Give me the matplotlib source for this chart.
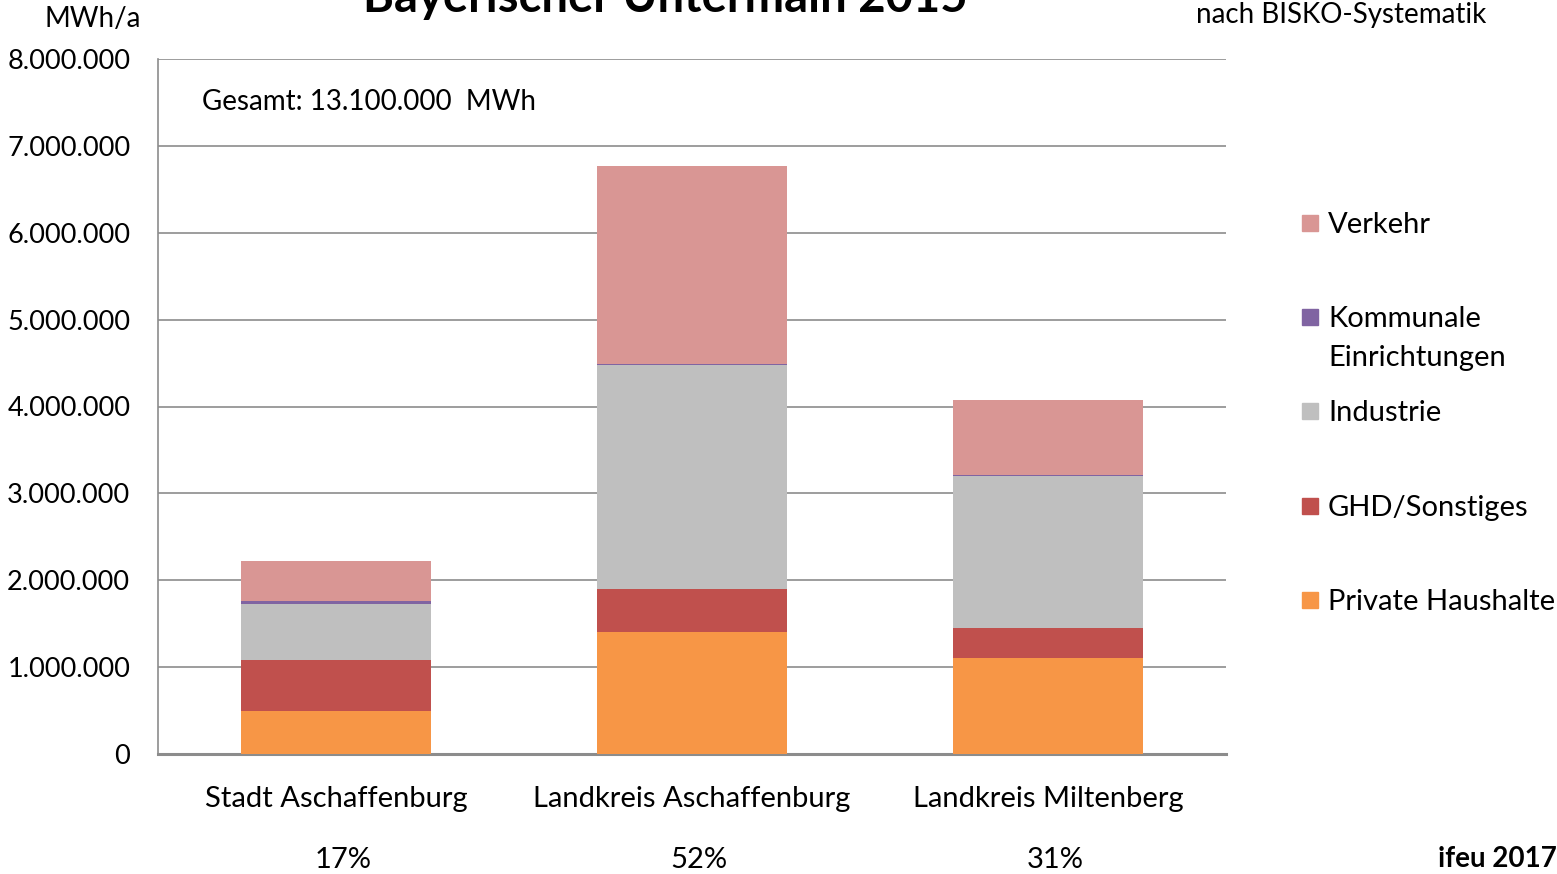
import matplotlib
matplotlib.use("Agg")
import matplotlib.pyplot as plt
import matplotlib.ticker as mticker
from matplotlib.patches import Rectangle
import numpy as np

plt.rcParams["font.family"] = ["Lato", "DejaVu Sans"]

# ── Data (MWh/a) ──────────────────────────────────────────────────────────────
REGIONS = ["Stadt Aschaffenburg", "Landkreis Aschaffenburg", "Landkreis Miltenberg"]
SHARES = ["17%", "52%", "31%"]
private_haushalte = [500_000, 1_404_000, 1_109_000]
ghd_sonstiges = [582_000, 495_000, 345_000]
industrie = [645_000, 2_573_000, 1_749_000]
kommunale = [30_000, 18_000, 10_000]
verkehr = [465_000, 2_278_000, 863_000]

SERIES = [
    ("Private Haushalte", private_haushalte, "#f79646"),
    ("GHD/Sonstiges", ghd_sonstiges, "#c0504d"),
    ("Industrie", industrie, "#bfbfbf"),
    ("Kommunale\nEinrichtungen", kommunale, "#8064a2"),
    ("Verkehr", verkehr, "#d99694"),
]

FS = 20

W, H = 1557, 874
fig = plt.figure(figsize=(W / 100, H / 100), dpi=100)
ax = fig.add_axes([158 / W, 1 - 754 / H, (1226 - 158) / W, (754 - 59) / H])

x = np.arange(len(REGIONS))
bottom = np.zeros(len(REGIONS))
for name, vals, col in SERIES:
    ax.bar(x, vals, width=0.535, bottom=bottom, color=col, edgecolor="none", zorder=3)
    bottom += np.array(vals)

ax.set_xlim(-0.5, 2.5)
ax.set_ylim(0, 8_000_000)
ax.yaxis.set_major_locator(mticker.MultipleLocator(1_000_000))
ax.yaxis.set_major_formatter(mticker.FuncFormatter(
    lambda v, _: f"{int(v):,}".replace(",", ".")))
ax.grid(axis="y", color="#8c8c8c", linewidth=1.2, zorder=0)
ax.set_xticks([])
ax.tick_params(axis="y", length=0, pad=20, labelsize=19.5)
ax.spines[["top", "right"]].set_visible(False)
ax.spines["left"].set_color("#8c8c8c")
ax.spines["left"].set_linewidth(1.2)
ax.spines["bottom"].set_color("#8c8c8c")
ax.spines["bottom"].set_linewidth(2.2)

# category labels and shares
for i, (reg, sh) in enumerate(zip(REGIONS, SHARES)):
    ax.annotate(reg, (i, 0), xytext=(0, -45), textcoords="offset pixels",
                ha="center", va="center", fontsize=21)
    ax.annotate(sh, (i, 0), xytext=(7, -106), textcoords="offset pixels",
                ha="center", va="center", fontsize=21)

fig.text(202 / W, 1 - 102 / H, "Gesamt: 13.100.000  MWh", fontsize=FS,
         ha="left", va="center")
fig.text(93 / W, 1 - 19 / H, "MWh/a", fontsize=FS, ha="center", va="center")
fig.text(1341 / W, 1 - 15 / H, "nach BISKO-Systematik", fontsize=FS,
         ha="center", va="center")
fig.text(665 / W, 1 - 12 / H, "Bayerischer Untermain 2015", fontsize=34,
         fontweight="bold", ha="center", va="baseline")
fig.text(1557 / W, 1 - 859 / H, "ifeu 2017", fontsize=FS, fontweight="bold",
         ha="right", va="center")

# legend, drawn by hand to keep Excel-like spacing
legend_y = {"Verkehr": 223, "Kommunale\nEinrichtungen": 317, "Industrie": 411,
            "GHD/Sonstiges": 506, "Private Haushalte": 600}
for name, _, col in SERIES:
    yp = legend_y[name]
    fig.patches.append(Rectangle((1302 / W, 1 - (yp + 8) / H), 16 / W, 16 / H,
                                 color=col, transform=fig.transFigure))
    for k, line in enumerate(name.split("\n")):
        fig.text(1328 / W, 1 - (yp + 2 + 39 * k) / H, line, fontsize=21,
                 ha="left", va="center")

fig.savefig("out.png", dpi=100)
